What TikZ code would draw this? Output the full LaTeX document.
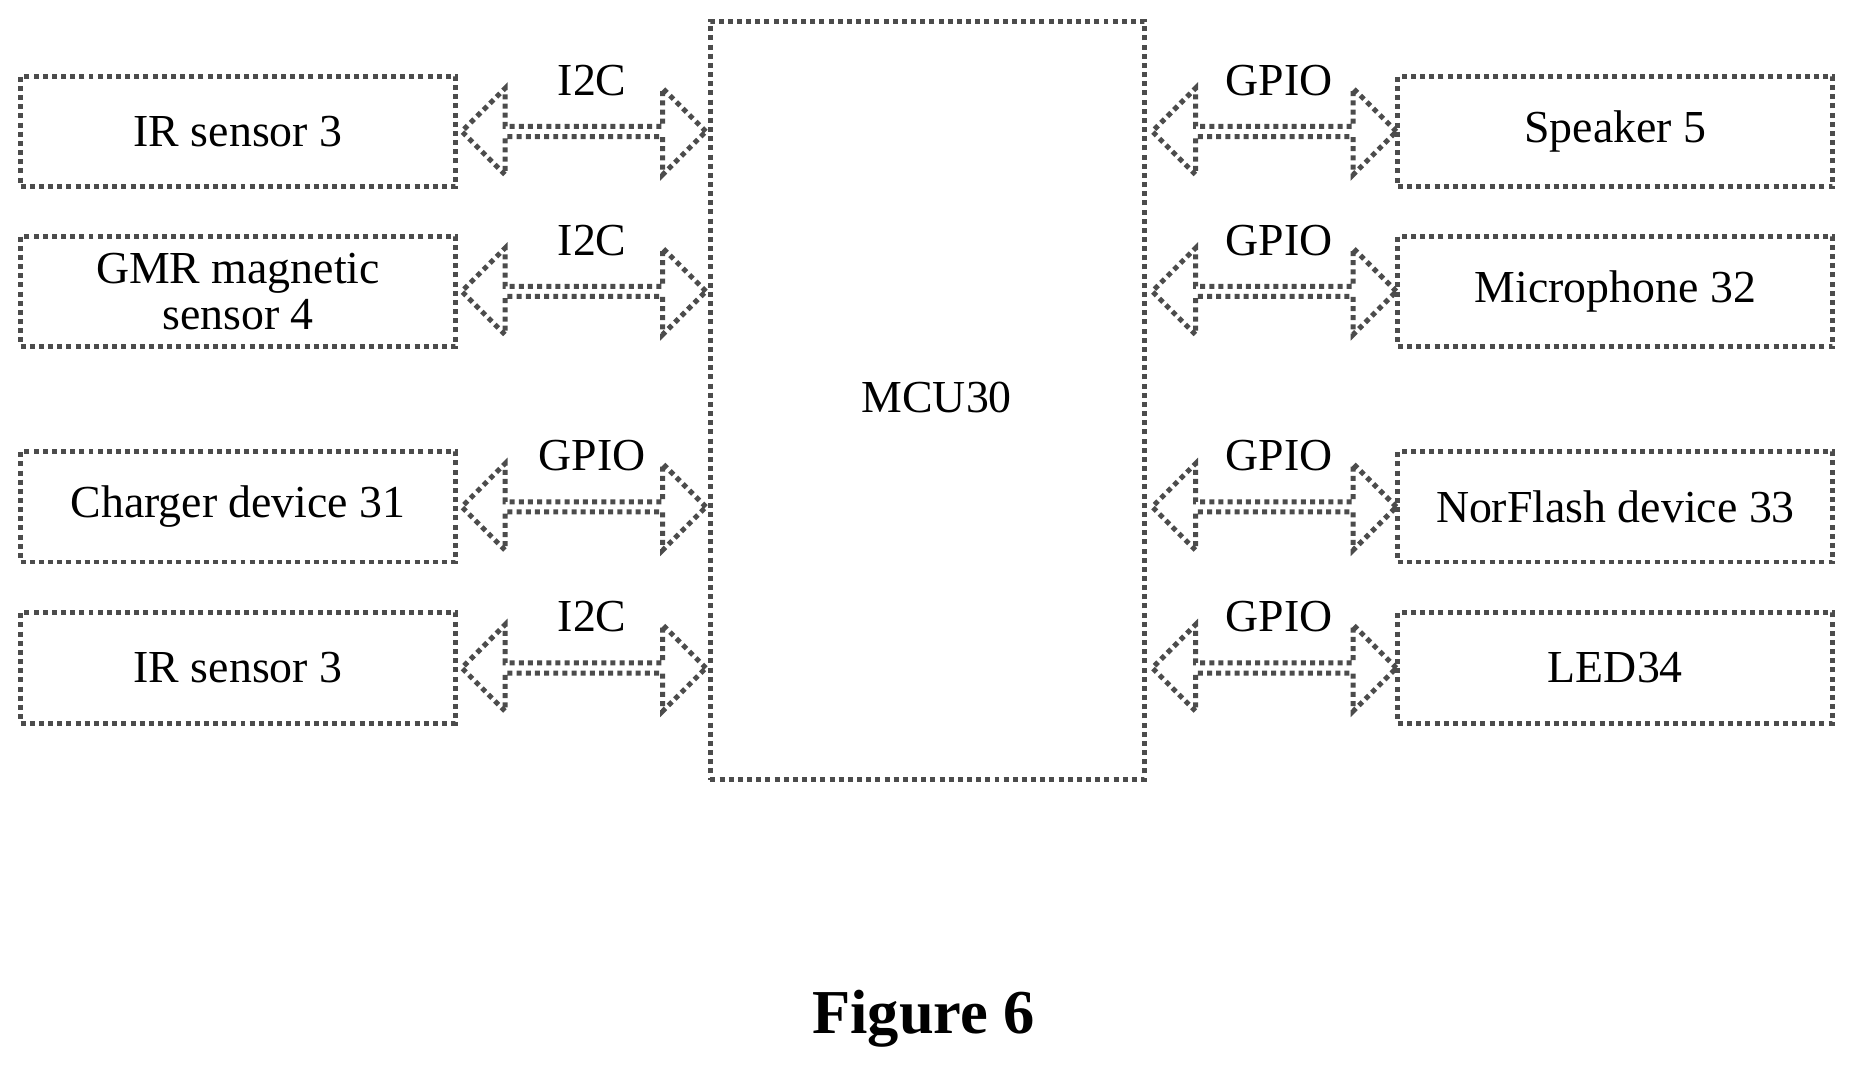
\documentclass[tikz,border=0pt]{standalone}
\usepackage{fontspec}
\setmainfont{Liberation Serif}
\usetikzlibrary{shapes.arrows}
\begin{document}
\begin{tikzpicture}[
    x=0.01cm, y=-0.01cm,
    box/.style={draw=black!70, densely dotted, line width=1.2pt, minimum width=3.67cm,
                minimum height=0.93cm, align=center, font=\fontsize{11pt}{11pt}\selectfont},
    bus/.style={double arrow, draw=black!70, densely dotted, line width=1.2pt,
                minimum height=2.06cm, minimum width=0.73cm,
                double arrow head extend=0.16cm, inner sep=0pt},
    lbl/.style={font=\fontsize{11pt}{11pt}\selectfont}
  ]
    \useasboundingbox (0,0) rectangle (1568,905);
    \node[box, minimum width=3.66cm, minimum height=6.4cm] (mcu) at (783,338) {};
    \node[lbl] at (791,336) {MCU30};

    % left side
    \node[box] (l1) at (201,111) {IR sensor 3};
    \node[box] (l2) at (201,246) {GMR magnetic\\sensor 4};
    \node[box] (l3) at (201,428) {Charger device 31};
    \node[box] (l4) at (201,564) {IR sensor 3};
    % right side
    \node[box] (r1) at (1364,111) {Speaker 5};
    \node[box] (r2) at (1364,246) {Microphone 32};
    \node[box] (r3) at (1364,428) {NorFlash device 33};
    \node[box] (r4) at (1364,564) {LED34};

    \foreach \n/\y/\t in {1/111/I2C, 2/246/I2C, 3/428/GPIO, 4/564/I2C} {
      \node[bus] (bl\n) at (493,\y) {};
      \node[lbl] at (500,\y-43) {\t};
    }
    \foreach \n/\y in {1/111, 2/246, 3/428, 4/564} {
      \node[bus] (br\n) at (1076,\y) {};
      \node[lbl] at (1080,\y-43) {GPIO};
    }

    \node[font=\bfseries\fontsize{15pt}{15pt}\selectfont] (fig) at (780,860) {Figure 6};
\end{tikzpicture}
\end{document}
